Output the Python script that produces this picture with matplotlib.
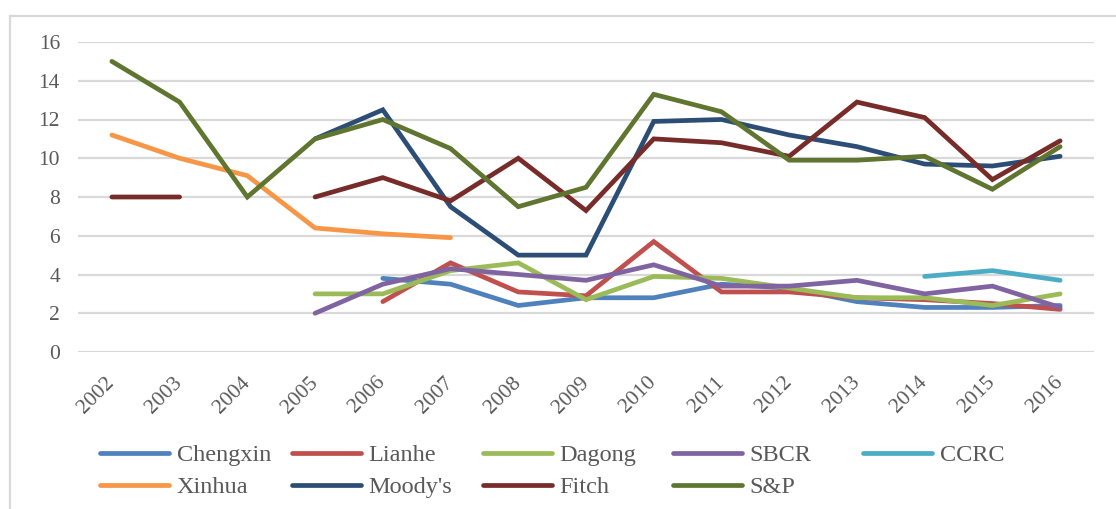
import numpy as np
import matplotlib
matplotlib.use("Agg")
import matplotlib.pyplot as plt
from matplotlib.lines import Line2D

nan = np.nan
years = list(range(2002, 2017))
year_labels = [str(y) for y in years]

chengxin = [nan, nan, nan, nan, 3.8, 3.5, 2.4, 2.8, 2.8, 3.5, 3.3, 2.6, 2.3, 2.3, 2.4]
lianhe   = [nan, nan, nan, nan, 2.6, 4.6, 3.1, 2.9, 5.7, 3.1, 3.1, 2.8, 2.7, 2.5, 2.2]
dagong   = [nan, nan, nan, 3.0, 3.0, 4.2, 4.6, 2.7, 3.9, 3.8, 3.3, 2.8, 2.8, 2.4, 3.0]
sbcr     = [nan, nan, nan, 2.0, 3.5, 4.3, 4.0, 3.7, 4.5, 3.4, 3.4, 3.7, 3.0, 3.4, 2.3]
ccrc     = [nan, nan, nan, nan, nan, nan, nan, nan, nan, nan, nan, nan, 3.9, 4.2, 3.7]
xinhua   = [11.2, 10.0, 9.1, 6.4, 6.1, 5.9, nan, nan, nan, nan, nan, nan, nan, nan, nan]
moodys   = [nan, nan, nan, 11.0, 12.5, 7.5, 5.0, 5.0, 11.9, 12.0, 11.2, 10.6, 9.7, 9.6, 10.1]
fitch    = [8.0, 8.0, nan, 8.0, 9.0, 7.8, 10.0, 7.3, 11.0, 10.8, 10.1, 12.9, 12.1, 8.9, 10.9]
sp       = [15.0, 12.9, 8.0, 11.0, 12.0, 10.5, 7.5, 8.5, 13.3, 12.4, 9.9, 9.9, 10.1, 8.4, 10.6]

series_names = ["Chengxin", "Lianhe", "Dagong", "SBCR", "CCRC",
                "Xinhua", "Moody's", "Fitch", "S&P"]
series_values = [chengxin, lianhe, dagong, sbcr, ccrc, xinhua, moodys, fitch, sp]
series_colors = ["#4F81BD", "#C0504D", "#9BBB59", "#8064A2", "#4BACC6",
                 "#F79646", "#2C4D75", "#772C2A", "#5F7530"]
y_ticks = [0, 2, 4, 6, 8, 10, 12, 14, 16]

W, H = 1116, 509
fig = plt.figure(figsize=(W / 100, H / 100), dpi=100)
plt.rcParams['font.family'] = ['Liberation Serif', 'DejaVu Serif']
text_color = "#595959"

ax = fig.add_axes([78 / W, 157 / H, (1094 - 78) / W, (352 - 42) / H])

handles = {}
for name, vals, col in zip(series_names, series_values, series_colors):
    ln, = ax.plot(years, vals, color=col, lw=3.4, solid_capstyle='round',
                  solid_joinstyle='miter', zorder=3)
    handles[name] = ln

ax.set_xlim(2001.5, 2016.5)
ax.set_ylim(0, 16)
ax.set_yticks(y_ticks)
ax.set_yticklabels([str(t) for t in y_ticks])
ax.set_xticks(years)
ax.set_xticklabels(year_labels, rotation=45, ha='right', va='center',
                   rotation_mode='anchor')
ax.tick_params(axis='y', length=0, pad=13, labelsize=15.5, labelcolor=text_color)
ax.tick_params(axis='x', length=0, pad=20, labelsize=15.5, labelcolor=text_color)
ax.grid(axis='y', color='#D9D9D9', lw=1.6, zorder=0)
ax.set_axisbelow(True)
for s in ax.spines.values():
    s.set_visible(False)

# outer chart border (left and top)
fig.add_artist(Line2D([10 / W, 10 / W], [0, 1 - 15.5 / H], color='#D9D9D9',
                      lw=1.6, transform=fig.transFigure))
fig.add_artist(Line2D([10 / W, 1], [1 - 15.5 / H, 1 - 15.5 / H], color='#D9D9D9',
                      lw=1.6, transform=fig.transFigure))

# legend in 5 equally spaced columns
columns = [["Chengxin", "Xinhua"], ["Lianhe", "Moody's"], ["Dagong", "Fitch"],
           ["SBCR", "S&P"], ["CCRC"]]
col_x = [100, 292, 483, 673, 863]
for xs, names in zip(col_x, columns):
    leg = fig.legend([handles[n] for n in names], names, loc='upper left',
                     bbox_to_anchor=(xs / W, 1 - 444 / H), frameon=False,
                     handlelength=2.85, handletextpad=0.3, borderpad=0,
                     borderaxespad=0, labelspacing=0.42, fontsize=17.5,
                     labelcolor=text_color)

fig.savefig("out.png", dpi=100)
